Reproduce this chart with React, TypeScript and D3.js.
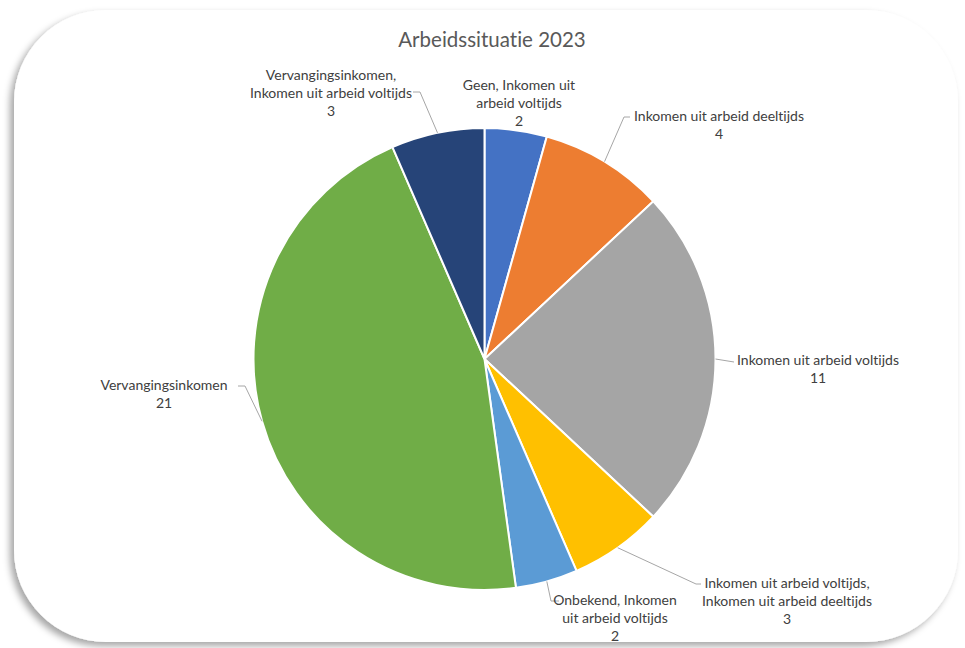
import React from "react";
import * as d3 from "d3";

const title = "Arbeidssituatie 2023";
const categories = [
  "Geen, Inkomen uit arbeid voltijds",
  "Inkomen uit arbeid deeltijds",
  "Inkomen uit arbeid voltijds",
  "Inkomen uit arbeid voltijds, Inkomen uit arbeid deeltijds",
  "Onbekend, Inkomen uit arbeid voltijds",
  "Vervangingsinkomen",
  "Vervangingsinkomen, Inkomen uit arbeid voltijds",
];
const values = [2, 4, 11, 3, 2, 21, 3];
const labelLines = [
  ["Geen, Inkomen uit", "arbeid voltijds"],
  ["Inkomen uit arbeid deeltijds"],
  ["Inkomen uit arbeid voltijds"],
  ["Inkomen uit arbeid voltijds,", "Inkomen uit arbeid deeltijds"],
  ["Onbekend, Inkomen", "uit arbeid voltijds"],
  ["Vervangingsinkomen"],
  ["Vervangingsinkomen,", "Inkomen uit arbeid voltijds"],
];
const colors = ["#4472C4", "#ED7D31", "#A5A5A5", "#FFC000", "#5B9BD5", "#70AD47", "#264478"];

// layout: label block center x, first line center y, leader attach point & elbow (null = none)
const labelLayout = [
  { cx: 519, y0: 85, attach: null as null | [number, number], elbow: null as null | [number, number] },
  { cx: 719, y0: 116, attach: [630, 117], elbow: [624, 117] },
  { cx: 818, y0: 360, attach: [734, 362], elbow: null },
  { cx: 787, y0: 583, attach: [701, 584], elbow: [696, 584] },
  { cx: 615, y0: 600, attach: [559, 601], elbow: [551, 601] },
  { cx: 164, y0: 385, attach: [238, 386], elbow: [245, 386] },
  { cx: 331, y0: 75, attach: [413, 92], elbow: [420, 92] },
];

const W = 965;
const H = 648;
const CX = 484.5;
const CY = 359;
const R = 231;
const LH = 18;
const FONT = "Lato, 'Open Sans', sans-serif";
const noLig = { fontVariantLigatures: "none", fontFeatureSettings: '"liga" 0, "clig" 0, "dlig" 0' } as React.CSSProperties;

export default function App() {
  const pie = d3.pie<number>().sort(null).value((d) => d)(values);
  const arc = d3.arc<d3.PieArcDatum<number>>().innerRadius(0).outerRadius(R);

  return (
    <svg
      width={W}
      height={H}
      viewBox={`0 0 ${W} ${H}`}
      style={{ position: "absolute", left: 0, top: 0, background: "#fff" }}
    >
      <defs>
        <filter id="shadow" x="-5%" y="-5%" width="110%" height="110%">
          <feDropShadow dx={-4} dy={4} stdDeviation={3.5} floodColor="#000" floodOpacity={0.35} />
        </filter>
      </defs>
      <rect x={14} y={10} width={944} height={632} rx={92} ry={92} fill="#fff" filter="url(#shadow)" />
      <text
        x={492}
        y={47}
        textAnchor="middle"
        fontFamily={FONT}
        fontSize={20.5}
        fill="#595959"
        style={noLig}
      >
        {title}
      </text>
      <g transform={`translate(${CX},${CY})`}>
        {pie.map((p, i) => (
          <path key={categories[i]} d={arc(p) || ""} fill={colors[i]} stroke="#fff" strokeWidth={2} />
        ))}
      </g>
      {pie.map((p, i) => {
        const L = labelLayout[i];
        if (!L.attach) return null;
        const mid = (p.startAngle + p.endAngle) / 2;
        const ex = CX + R * Math.sin(mid);
        const ey = CY - R * Math.cos(mid);
        const pts: [number, number][] = [[ex, ey]];
        if (L.elbow) pts.push(L.elbow);
        pts.push(L.attach);
        const line = d3.line()(pts) || "";
        return <path key={"l" + i} d={line} fill="none" stroke="#A6A6A6" strokeWidth={1} />;
      })}
      {pie.map((p, i) => {
        const L = labelLayout[i];
        const lines = [...labelLines[i], String(values[i])];
        return (
          <text
            key={"t" + i}
            textAnchor="middle"
            fontFamily={FONT}
            fontSize={14}
            fill="#404040"
            style={noLig}
          >
            {lines.map((s, j) => (
              <tspan key={j} x={L.cx} y={L.y0 + j * LH} dy="0.35em">
                {s}
              </tspan>
            ))}
          </text>
        );
      })}
    </svg>
  );
}
